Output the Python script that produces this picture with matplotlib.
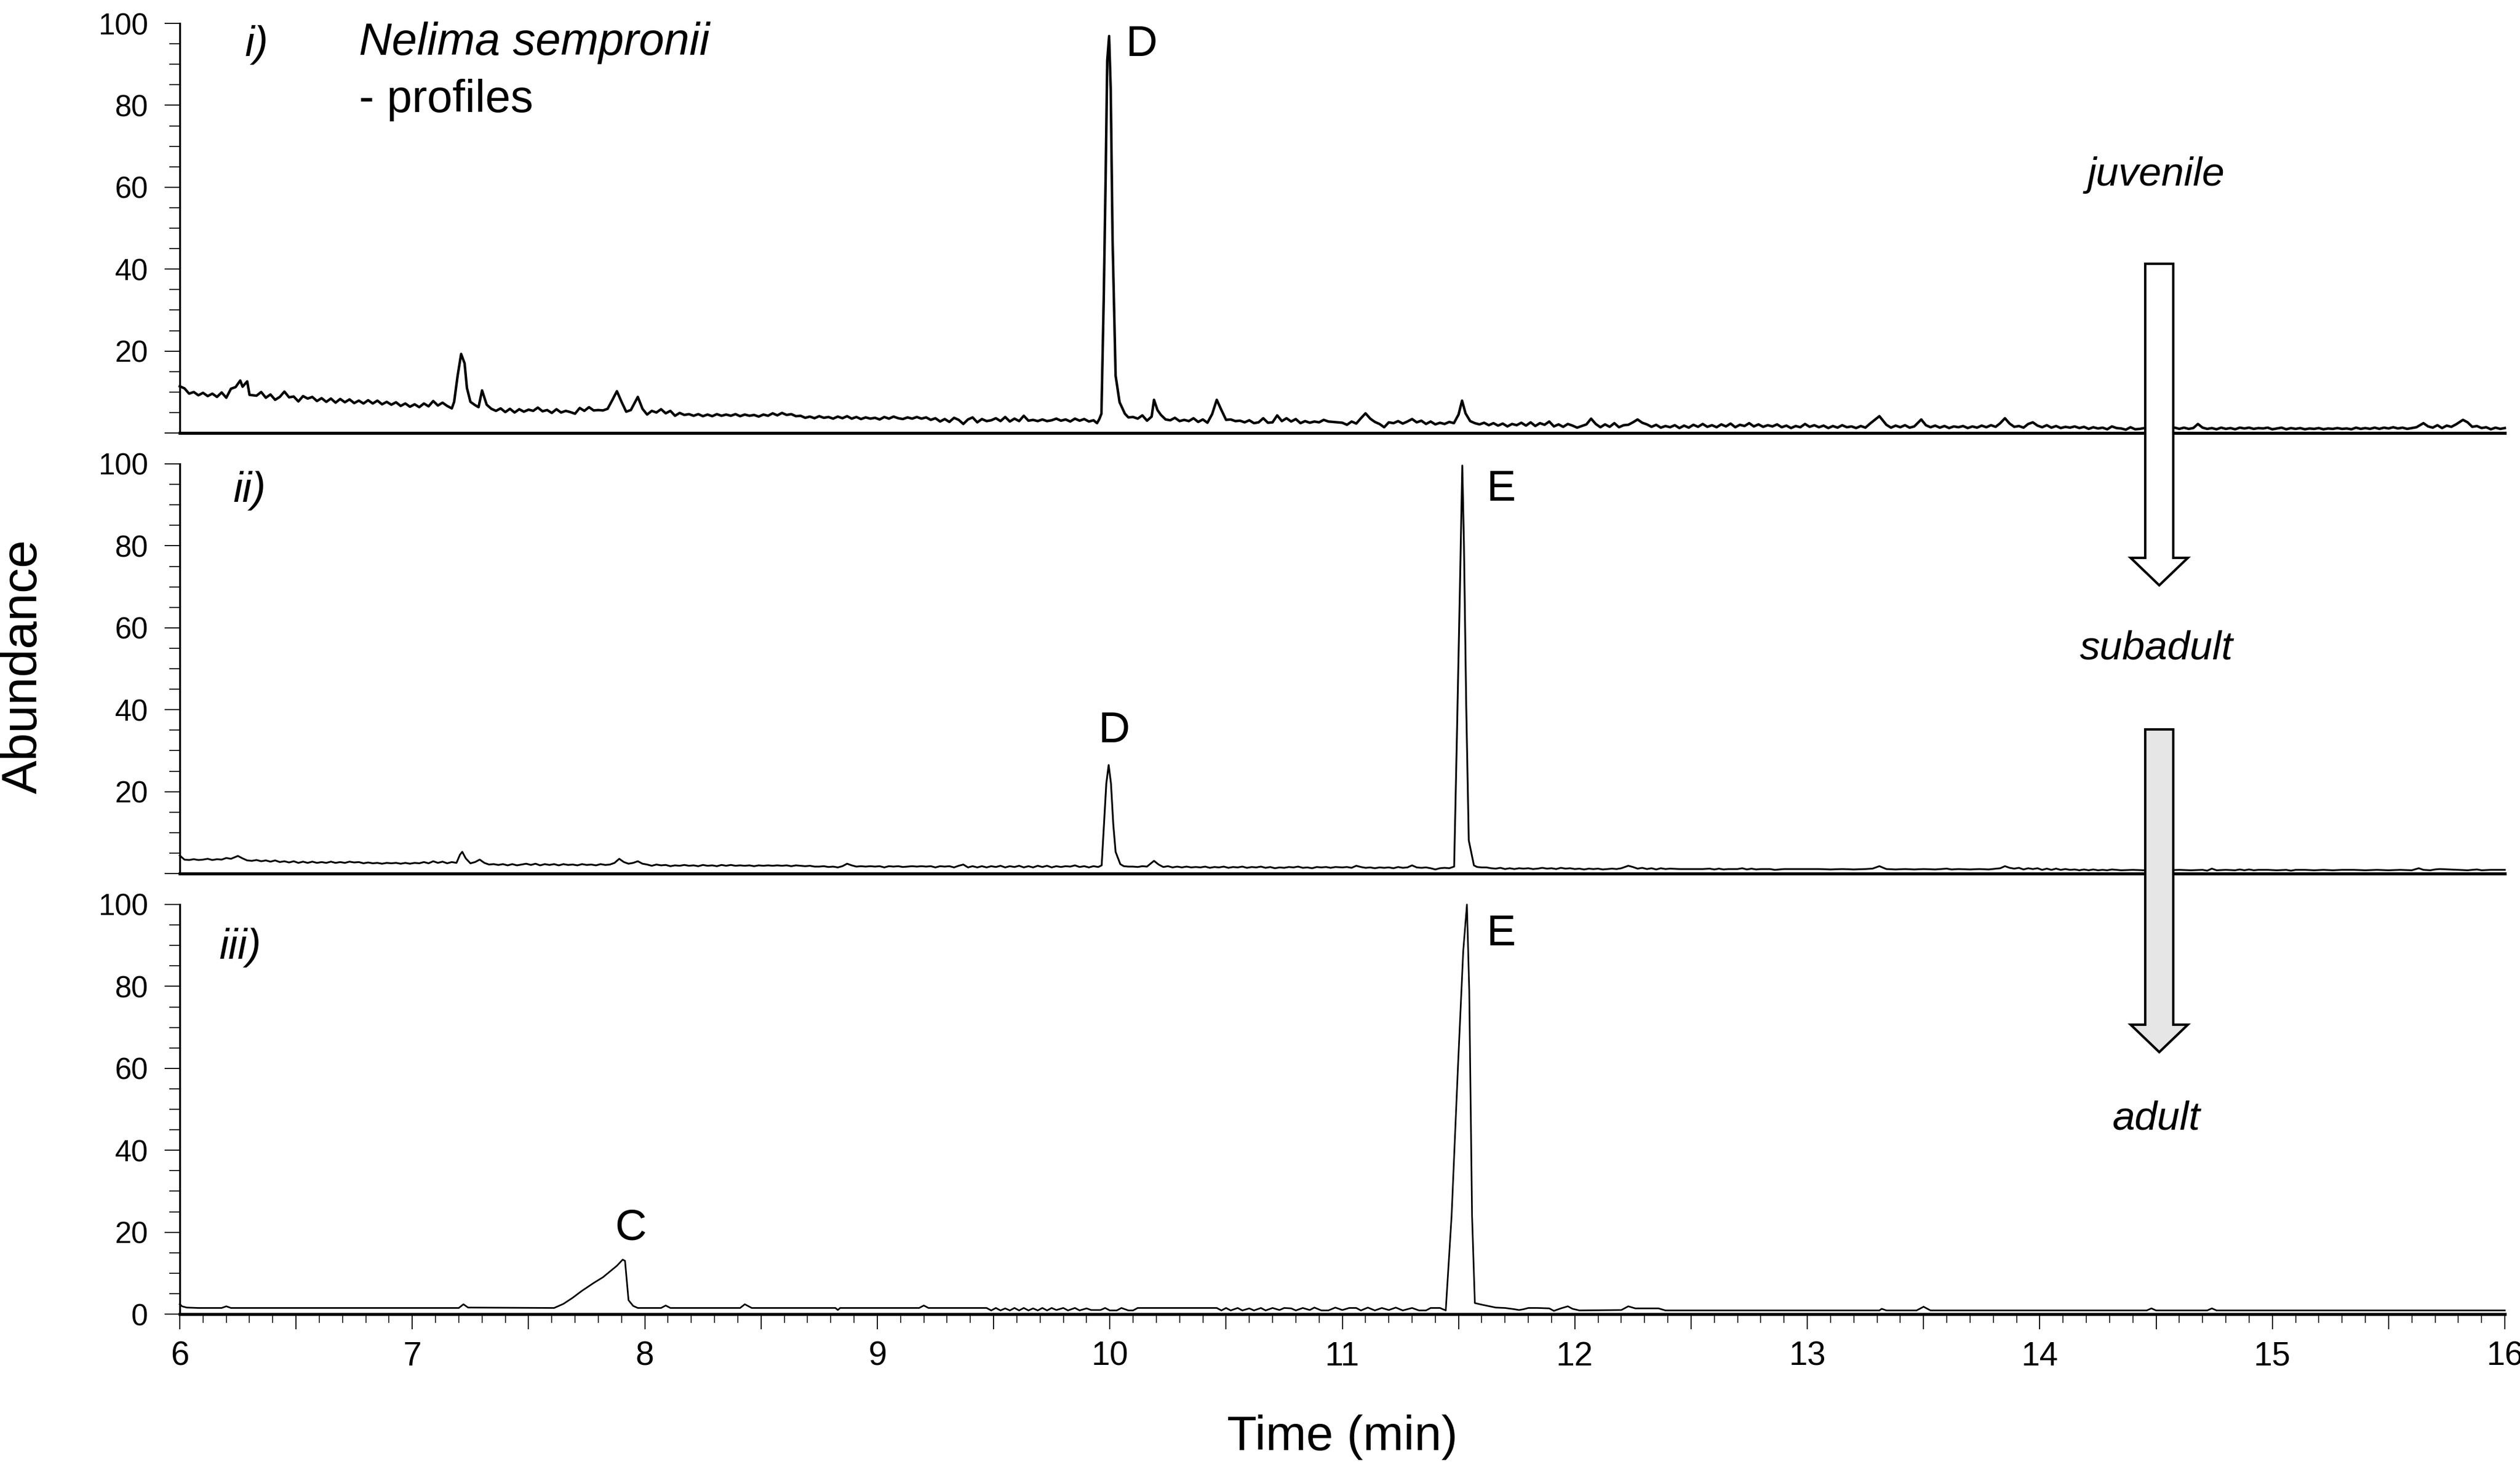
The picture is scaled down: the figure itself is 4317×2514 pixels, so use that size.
import matplotlib
matplotlib.use("Agg")
import matplotlib.pyplot as plt
from matplotlib.patches import FancyArrow
from matplotlib.ticker import MultipleLocator, FuncFormatter

plt.rcParams["font.family"] = ["Liberation Sans", "DejaVu Sans"]

# chromatogram vertices (time [min], abundance)
JUV = [
    (6.00, 11.4), (6.02, 10.9), (6.04, 9.6), (6.06, 10.0), (6.08, 9.2), (6.10, 9.8), (6.12, 9.0),
    (6.14, 9.6), (6.16, 8.8), (6.18, 9.9), (6.20, 8.6), (6.22, 10.8), (6.24, 11.2), (6.26, 12.8),
    (6.27, 11.3), (6.29, 12.6), (6.30, 9.3), (6.33, 9.1), (6.35, 10.0), (6.37, 8.6), (6.39, 9.4),
    (6.41, 8.1), (6.43, 8.8), (6.45, 10.1), (6.47, 8.7), (6.49, 8.9), (6.51, 7.7), (6.53, 9.0),
    (6.55, 8.4), (6.57, 8.8), (6.59, 7.8), (6.61, 8.5), (6.63, 7.6), (6.65, 8.4), (6.67, 7.4),
    (6.69, 8.3), (6.71, 7.5), (6.73, 8.2), (6.75, 7.3), (6.77, 7.9), (6.79, 7.2), (6.81, 8.0),
    (6.83, 7.2), (6.85, 7.9), (6.87, 7.0), (6.89, 7.6), (6.91, 6.9), (6.93, 7.5), (6.95, 6.6),
    (6.97, 7.2), (6.99, 6.4), (7.01, 7.0), (7.03, 6.3), (7.05, 7.2), (7.07, 6.5), (7.09, 7.8),
    (7.11, 6.7), (7.13, 7.4), (7.15, 6.6), (7.17, 6.0), (7.18, 7.6), (7.195, 14.0), (7.21, 19.3),
    (7.225, 17.0), (7.235, 11.0), (7.25, 7.6), (7.27, 6.8), (7.285, 6.3), (7.30, 10.4), (7.32, 6.9),
    (7.34, 5.9), (7.36, 5.4), (7.38, 6.0), (7.40, 5.1), (7.42, 5.9), (7.44, 5.0), (7.46, 5.8),
    (7.48, 5.2), (7.50, 5.7), (7.52, 5.4), (7.54, 6.2), (7.56, 5.3), (7.58, 5.6), (7.60, 4.9),
    (7.62, 5.8), (7.64, 5.0), (7.66, 5.4), (7.68, 5.1), (7.70, 4.7), (7.72, 6.1), (7.74, 5.4),
    (7.76, 6.3), (7.78, 5.5), (7.80, 5.6), (7.82, 5.5), (7.84, 5.9), (7.86, 8.0), (7.88, 10.2),
    (7.90, 7.6), (7.92, 5.2), (7.94, 5.6), (7.97, 8.8), (7.99, 5.9), (8.01, 4.5), (8.03, 5.4),
    (8.05, 5.0), (8.07, 5.8), (8.09, 4.8), (8.11, 5.4), (8.13, 4.2), (8.15, 4.9), (8.17, 4.4),
    (8.19, 4.6), (8.21, 4.2), (8.23, 4.6), (8.25, 4.1), (8.27, 4.5), (8.29, 4.1), (8.31, 4.6),
    (8.33, 4.2), (8.35, 4.5), (8.37, 4.2), (8.39, 4.6), (8.41, 4.1), (8.43, 4.5), (8.45, 4.2),
    (8.47, 4.4), (8.49, 4.0), (8.51, 4.5), (8.53, 4.2), (8.55, 4.8), (8.57, 4.3), (8.59, 4.9),
    (8.61, 4.4), (8.63, 4.6), (8.65, 4.1), (8.67, 4.2), (8.69, 3.7), (8.71, 4.0), (8.73, 3.6),
    (8.75, 4.1), (8.77, 3.7), (8.79, 3.9), (8.81, 3.5), (8.83, 4.0), (8.85, 3.6), (8.87, 4.1),
    (8.89, 3.5), (8.91, 3.9), (8.93, 3.4), (8.95, 3.8), (8.97, 3.5), (8.99, 3.7), (9.01, 3.3),
    (9.03, 3.9), (9.05, 3.5), (9.07, 4.0), (9.09, 3.6), (9.11, 3.4), (9.13, 3.8), (9.15, 3.5),
    (9.17, 3.9), (9.19, 3.5), (9.21, 3.8), (9.23, 3.2), (9.25, 3.6), (9.27, 2.8), (9.29, 3.4),
    (9.31, 2.7), (9.33, 3.7), (9.35, 3.2), (9.37, 2.2), (9.39, 3.3), (9.41, 3.8), (9.43, 2.6),
    (9.45, 3.4), (9.47, 2.9), (9.49, 3.1), (9.51, 3.6), (9.53, 2.9), (9.55, 3.9), (9.57, 2.8),
    (9.59, 3.5), (9.61, 2.9), (9.63, 4.2), (9.65, 3.0), (9.67, 3.2), (9.69, 2.9), (9.71, 3.3),
    (9.73, 2.9), (9.75, 3.1), (9.77, 3.5), (9.79, 3.0), (9.81, 3.3), (9.83, 2.8), (9.85, 3.5),
    (9.87, 3.0), (9.89, 3.4), (9.91, 2.8), (9.93, 3.1), (9.945, 2.4), (9.955, 3.4), (9.964, 4.7),
    (9.974, 33.0), (9.982, 62.0), (9.989, 91.0), (9.997, 96.9), (10.004, 83.7), (10.012, 47.0),
    (10.025, 14.0), (10.042, 7.5), (10.065, 4.7), (10.08, 3.8), (10.10, 3.9), (10.12, 3.5),
    (10.14, 4.3), (10.16, 3.0), (10.18, 4.0), (10.19, 8.1), (10.205, 5.6), (10.22, 4.4),
    (10.24, 3.3), (10.26, 3.1), (10.28, 3.7), (10.30, 2.9), (10.32, 3.2), (10.34, 2.9),
    (10.36, 3.6), (10.38, 2.7), (10.40, 3.3), (10.42, 2.5), (10.44, 4.6), (10.46, 8.1),
    (10.48, 5.6), (10.50, 3.2), (10.52, 3.3), (10.54, 2.9), (10.56, 3.0), (10.58, 2.6),
    (10.60, 3.1), (10.62, 2.4), (10.64, 2.6), (10.66, 3.6), (10.68, 2.5), (10.70, 2.6),
    (10.72, 4.3), (10.74, 2.9), (10.76, 3.6), (10.78, 2.8), (10.80, 3.4), (10.82, 2.4),
    (10.84, 2.9), (10.86, 2.5), (10.88, 2.8), (10.90, 2.6), (10.92, 3.2), (10.94, 2.8),
    (11.00, 2.5), (11.02, 2.0), (11.04, 2.8), (11.06, 2.3), (11.08, 3.6), (11.10, 4.8),
    (11.12, 3.5), (11.14, 2.7), (11.16, 2.2), (11.18, 1.4), (11.20, 2.6), (11.22, 2.4),
    (11.24, 2.9), (11.26, 2.3), (11.28, 2.8), (11.30, 3.4), (11.32, 2.6), (11.34, 3.0),
    (11.36, 2.2), (11.38, 2.8), (11.40, 2.1), (11.42, 2.5), (11.44, 2.2), (11.46, 2.7),
    (11.48, 2.4), (11.50, 4.5), (11.515, 7.9), (11.53, 4.8), (11.55, 2.9), (11.57, 2.4),
    (11.59, 2.1), (11.61, 2.5), (11.63, 1.9), (11.65, 2.4), (11.67, 1.8), (11.69, 2.3),
    (11.71, 1.6), (11.73, 2.2), (11.75, 1.9), (11.77, 2.5), (11.79, 1.8), (11.81, 2.6),
    (11.83, 1.7), (11.85, 2.4), (11.87, 2.0), (11.89, 2.8), (11.91, 1.6), (11.93, 2.1),
    (11.95, 1.5), (11.97, 2.2), (11.99, 1.8), (12.01, 1.3), (12.05, 2.1), (12.07, 3.5),
    (12.09, 2.2), (12.11, 1.4), (12.13, 2.1), (12.15, 1.5), (12.17, 2.4), (12.19, 1.4),
    (12.21, 1.9), (12.23, 2.0), (12.25, 2.6), (12.27, 3.3), (12.29, 2.5), (12.31, 2.1),
    (12.33, 1.5), (12.35, 2.0), (12.37, 1.3), (12.39, 1.7), (12.41, 1.4), (12.43, 1.9),
    (12.45, 1.2), (12.47, 1.8), (12.49, 1.3), (12.51, 2.0), (12.53, 1.5), (12.55, 2.2),
    (12.57, 1.5), (12.59, 1.9), (12.61, 1.4), (12.63, 2.1), (12.65, 1.6), (12.67, 2.3),
    (12.69, 1.4), (12.71, 2.0), (12.73, 1.7), (12.75, 2.4), (12.77, 1.6), (12.79, 2.1),
    (12.81, 1.5), (12.83, 1.9), (12.85, 1.6), (12.87, 2.1), (12.89, 1.4), (12.91, 1.8),
    (12.93, 1.2), (12.95, 1.7), (12.97, 1.4), (12.99, 2.2), (13.01, 1.5), (13.03, 1.9),
    (13.05, 1.4), (13.07, 1.8), (13.09, 1.2), (13.11, 1.7), (13.13, 1.3), (13.15, 1.9),
    (13.17, 1.4), (13.19, 1.6), (13.21, 1.2), (13.23, 1.7), (13.25, 1.3), (13.27, 2.3),
    (13.31, 4.1), (13.34, 2.0), (13.36, 1.3), (13.38, 1.8), (13.40, 1.4), (13.42, 1.9),
    (13.44, 1.3), (13.46, 1.6), (13.49, 3.3), (13.51, 1.9), (13.53, 1.4), (13.55, 1.8),
    (13.57, 1.3), (13.59, 1.7), (13.61, 1.2), (13.63, 1.6), (13.65, 1.4), (13.67, 1.7),
    (13.69, 1.2), (13.71, 1.6), (13.73, 1.3), (13.75, 1.8), (13.77, 1.4), (13.79, 1.9),
    (13.81, 1.5), (13.83, 2.4), (13.85, 3.6), (13.87, 2.3), (13.89, 1.5), (13.91, 1.7),
    (13.93, 1.3), (13.95, 2.2), (13.97, 2.6), (13.99, 1.8), (14.01, 1.4), (14.03, 1.9),
    (14.05, 1.3), (14.07, 1.7), (14.09, 1.2), (14.11, 1.5), (14.13, 1.3), (14.15, 1.6),
    (14.17, 1.2), (14.19, 1.5), (14.21, 1.0), (14.23, 1.4), (14.25, 1.1), (14.27, 1.3),
    (14.29, 0.9), (14.31, 1.6), (14.33, 1.2), (14.35, 1.1), (14.37, 0.8), (14.39, 1.4),
    (14.41, 0.9), (14.43, 1.0), (14.45, 1.2), (14.50, 1.1), (14.55, 1.0), (14.58, 1.3),
    (14.60, 1.0), (14.62, 1.3), (14.64, 1.0), (14.66, 1.2), (14.68, 2.2), (14.70, 1.3),
    (14.72, 1.0), (14.74, 1.2), (14.76, 0.9), (14.78, 1.3), (14.80, 1.0), (14.82, 1.2),
    (14.84, 0.9), (14.86, 1.3), (14.88, 1.1), (14.90, 1.3), (14.92, 1.0), (14.94, 1.2),
    (14.96, 1.1), (14.98, 1.3), (15.00, 0.9), (15.02, 1.1), (15.04, 1.3), (15.06, 0.9),
    (15.08, 1.2), (15.10, 1.0), (15.12, 1.2), (15.14, 0.9), (15.16, 1.1), (15.18, 1.0),
    (15.20, 1.2), (15.22, 0.9), (15.24, 1.1), (15.26, 1.0), (15.28, 1.2), (15.30, 1.0),
    (15.32, 1.1), (15.34, 0.9), (15.36, 1.3), (15.38, 1.0), (15.40, 1.2), (15.42, 1.0),
    (15.44, 1.3), (15.46, 1.0), (15.48, 1.3), (15.50, 1.1), (15.52, 1.4), (15.54, 1.1),
    (15.56, 1.3), (15.58, 1.0), (15.60, 1.2), (15.62, 1.4), (15.65, 2.4), (15.67, 1.6),
    (15.69, 1.3), (15.71, 1.9), (15.73, 1.2), (15.75, 1.8), (15.77, 1.5), (15.79, 2.1),
    (15.82, 3.2), (15.84, 2.6), (15.86, 1.5), (15.88, 1.7), (15.90, 1.2), (15.92, 1.4),
    (15.94, 0.9), (15.96, 1.3), (15.98, 1.0), (16.00, 1.2),
]

SUB = [
    (6.00, 4.4), (6.02, 3.4), (6.04, 3.3), (6.06, 3.5), (6.08, 3.3), (6.10, 3.4), (6.12, 3.6),
    (6.14, 3.3), (6.16, 3.5), (6.18, 3.4), (6.20, 3.8), (6.22, 3.6), (6.25, 4.3), (6.27, 3.7),
    (6.29, 3.2), (6.31, 3.1), (6.33, 3.3), (6.35, 3.0), (6.37, 3.2), (6.39, 2.9), (6.41, 3.2),
    (6.43, 2.8), (6.45, 3.0), (6.47, 2.7), (6.49, 3.0), (6.51, 2.6), (6.53, 2.9), (6.55, 2.6),
    (6.57, 2.9), (6.59, 2.6), (6.61, 2.8), (6.63, 2.6), (6.65, 2.9), (6.67, 2.6), (6.69, 2.8),
    (6.71, 2.6), (6.73, 2.9), (6.75, 2.7), (6.77, 2.8), (6.79, 2.5), (6.81, 2.7), (6.83, 2.5),
    (6.85, 2.6), (6.87, 2.4), (6.89, 2.6), (6.91, 2.5), (6.93, 2.6), (6.95, 2.4), (6.97, 2.6),
    (6.99, 2.4), (7.01, 2.6), (7.03, 2.5), (7.05, 2.8), (7.07, 2.5), (7.09, 3.0), (7.11, 2.6),
    (7.13, 2.9), (7.15, 2.5), (7.17, 2.8), (7.19, 2.6), (7.205, 4.6), (7.215, 5.3), (7.23, 3.7),
    (7.25, 2.5), (7.27, 2.8), (7.29, 3.4), (7.31, 2.6), (7.33, 2.2), (7.35, 2.3), (7.37, 2.1),
    (7.39, 2.3), (7.41, 2.0), (7.43, 2.3), (7.45, 2.0), (7.47, 2.2), (7.49, 2.4), (7.51, 2.1),
    (7.53, 2.4), (7.55, 2.0), (7.57, 2.3), (7.59, 2.1), (7.61, 2.3), (7.63, 2.0), (7.65, 2.3),
    (7.67, 2.1), (7.69, 2.2), (7.71, 2.0), (7.73, 2.3), (7.75, 2.1), (7.77, 2.2), (7.79, 2.0),
    (7.81, 2.3), (7.83, 2.1), (7.85, 2.2), (7.87, 2.6), (7.89, 3.6), (7.91, 2.8), (7.93, 2.4),
    (7.95, 2.6), (7.97, 3.0), (7.99, 2.4), (8.01, 2.2), (8.03, 1.9), (8.05, 2.2), (8.07, 2.0),
    (8.09, 2.1), (8.11, 1.8), (8.13, 2.0), (8.15, 1.9), (8.17, 2.1), (8.19, 1.9), (8.21, 2.0),
    (8.23, 1.8), (8.25, 2.1), (8.27, 1.9), (8.29, 2.0), (8.31, 1.8), (8.33, 2.1), (8.35, 1.9),
    (8.37, 2.1), (8.39, 1.9), (8.41, 2.0), (8.43, 1.9), (8.45, 2.0), (8.47, 1.8), (8.49, 2.0),
    (8.51, 1.9), (8.53, 2.0), (8.55, 1.9), (8.57, 2.0), (8.59, 1.9), (8.61, 2.0), (8.63, 1.8),
    (8.65, 2.0), (8.67, 1.9), (8.69, 1.8), (8.71, 1.9), (8.73, 1.7), (8.75, 1.7), (8.77, 1.8),
    (8.79, 1.6), (8.81, 1.7), (8.83, 1.5), (8.85, 1.8), (8.87, 2.4), (8.89, 2.0), (8.91, 1.7),
    (8.93, 1.8), (8.95, 1.7), (8.97, 1.8), (8.99, 1.7), (9.01, 1.8), (9.03, 1.5), (9.05, 1.8),
    (9.07, 1.7), (9.09, 1.8), (9.11, 1.6), (9.13, 1.7), (9.15, 1.8), (9.17, 1.7), (9.19, 1.8),
    (9.21, 1.7), (9.23, 1.8), (9.25, 1.5), (9.27, 1.8), (9.29, 1.7), (9.31, 1.8), (9.33, 1.5),
    (9.35, 1.9), (9.37, 2.2), (9.39, 1.5), (9.41, 1.8), (9.43, 1.5), (9.45, 1.8), (9.47, 1.5),
    (9.49, 1.8), (9.51, 1.6), (9.53, 1.9), (9.55, 1.5), (9.57, 1.8), (9.59, 1.6), (9.61, 1.9),
    (9.63, 1.5), (9.65, 1.8), (9.67, 1.5), (9.69, 1.9), (9.71, 1.6), (9.73, 1.9), (9.75, 1.5),
    (9.77, 1.8), (9.79, 1.6), (9.81, 1.8), (9.83, 1.7), (9.85, 2.0), (9.87, 1.6), (9.89, 1.8),
    (9.91, 1.5), (9.93, 1.8), (9.95, 1.6), (9.965, 2.0), (9.975, 12.0), (9.985, 22.0),
    (9.995, 26.5), (10.005, 22.0), (10.015, 12.0), (10.025, 5.3), (10.045, 2.3), (10.06, 1.8),
    (10.08, 1.7), (10.10, 1.7), (10.12, 1.6), (10.14, 1.8), (10.16, 1.7), (10.19, 3.1),
    (10.21, 2.2), (10.23, 1.6), (10.25, 1.8), (10.27, 1.5), (10.29, 1.7), (10.31, 1.5),
    (10.33, 1.7), (10.35, 1.5), (10.37, 1.6), (10.39, 1.5), (10.41, 1.7), (10.43, 1.4),
    (10.45, 1.6), (10.47, 1.5), (10.49, 1.7), (10.51, 1.4), (10.53, 1.6), (10.55, 1.5),
    (10.57, 1.7), (10.59, 1.4), (10.61, 1.6), (10.63, 1.5), (10.65, 1.7), (10.67, 1.4),
    (10.69, 1.6), (10.71, 1.3), (10.73, 1.5), (10.75, 1.4), (10.77, 1.6), (10.79, 1.5),
    (10.81, 1.7), (10.83, 1.4), (10.85, 1.5), (10.87, 1.3), (10.89, 1.6), (10.91, 1.5),
    (10.93, 1.6), (10.95, 1.4), (10.97, 1.6), (11.00, 1.5), (11.02, 1.6), (11.04, 1.4),
    (11.06, 1.9), (11.08, 1.6), (11.10, 1.4), (11.12, 1.5), (11.14, 1.3), (11.16, 1.5),
    (11.18, 1.4), (11.20, 1.5), (11.22, 1.3), (11.24, 1.6), (11.26, 1.4), (11.28, 1.5),
    (11.30, 2.0), (11.32, 1.5), (11.34, 1.4), (11.36, 1.5), (11.38, 1.3), (11.40, 1.0),
    (11.42, 1.3), (11.44, 1.4), (11.46, 1.3), (11.481, 1.7), (11.493, 33.6), (11.506, 70.0),
    (11.516, 99.6), (11.523, 80.8), (11.533, 40.9), (11.544, 8.1), (11.566, 2.0), (11.58, 1.6),
    (11.60, 1.5), (11.62, 1.5), (11.64, 1.3), (11.66, 1.2), (11.68, 1.4), (11.70, 1.1),
    (11.72, 1.3), (11.74, 1.1), (11.76, 1.3), (11.78, 1.2), (11.80, 1.3), (11.82, 1.1),
    (11.84, 1.2), (11.86, 1.4), (11.88, 1.2), (11.90, 1.3), (11.92, 1.1), (11.94, 1.4),
    (11.96, 1.2), (11.98, 1.3), (12.00, 1.1), (12.02, 1.2), (12.04, 1.0), (12.06, 1.2),
    (12.08, 1.1), (12.10, 1.2), (12.12, 1.0), (12.14, 1.1), (12.16, 1.2), (12.18, 1.1),
    (12.20, 1.3), (12.23, 1.9), (12.25, 1.6), (12.27, 1.2), (12.29, 1.4), (12.31, 1.1),
    (12.33, 1.3), (12.35, 1.0), (12.37, 1.3), (12.39, 1.1), (12.41, 1.2), (12.45, 1.1),
    (12.50, 1.1), (12.55, 1.1), (12.58, 1.2), (12.60, 1.0), (12.62, 1.2), (12.64, 1.0),
    (12.66, 1.1), (12.70, 1.1), (12.72, 1.3), (12.74, 1.0), (12.76, 1.2), (12.78, 1.0),
    (12.80, 1.1), (12.84, 1.1), (12.86, 0.9), (12.90, 1.1), (12.95, 1.1), (13.00, 1.1),
    (13.05, 1.1), (13.10, 1.0), (13.15, 1.1), (13.20, 1.0), (13.25, 1.1), (13.28, 1.2),
    (13.31, 1.8), (13.34, 1.1), (13.38, 1.0), (13.42, 1.1), (13.46, 1.0), (13.50, 1.1),
    (13.55, 1.0), (13.60, 1.2), (13.62, 1.0), (13.65, 1.1), (13.70, 1.0), (13.74, 1.1),
    (13.78, 1.0), (13.83, 1.3), (13.85, 1.8), (13.87, 1.4), (13.89, 1.2), (13.91, 1.4),
    (13.93, 1.0), (13.95, 1.3), (13.97, 1.1), (13.99, 1.3), (14.01, 0.9), (14.03, 1.2),
    (14.05, 0.9), (14.07, 1.2), (14.09, 0.9), (14.11, 1.1), (14.13, 0.9), (14.15, 1.0),
    (14.17, 0.8), (14.19, 1.0), (14.21, 0.8), (14.23, 1.0), (14.25, 0.8), (14.27, 0.9),
    (14.29, 0.8), (14.31, 1.0), (14.35, 0.8), (14.40, 0.9), (14.45, 0.8), (14.50, 0.9),
    (14.55, 0.8), (14.60, 0.9), (14.65, 0.8), (14.70, 0.9), (14.72, 0.7), (14.74, 1.2),
    (14.76, 0.8), (14.80, 0.9), (14.84, 0.8), (14.86, 1.0), (14.88, 0.8), (14.90, 1.0),
    (14.92, 0.8), (14.94, 0.9), (14.98, 0.9), (15.02, 0.8), (15.06, 0.9), (15.08, 0.7),
    (15.10, 0.9), (15.14, 0.9), (15.18, 0.8), (15.22, 0.9), (15.26, 0.8), (15.30, 0.9),
    (15.35, 0.9), (15.40, 0.8), (15.45, 0.9), (15.50, 0.8), (15.55, 0.9), (15.60, 0.8),
    (15.63, 1.3), (15.65, 0.9), (15.68, 0.8), (15.70, 1.0), (15.72, 1.1), (15.76, 1.0),
    (15.80, 0.9), (15.84, 0.8), (15.88, 1.0), (15.90, 0.8), (15.94, 0.9), (16.00, 0.9),
]

ADU = [
    (6.00, 2.4), (6.01, 1.9), (6.03, 1.6), (6.08, 1.5), (6.18, 1.5), (6.20, 1.9), (6.22, 1.5),
    (7.20, 1.5), (7.22, 2.4), (7.24, 1.6), (7.61, 1.5), (7.65, 2.5), (7.69, 4.0), (7.73, 5.7),
    (7.78, 7.6), (7.82, 9.0), (7.85, 10.4), (7.88, 11.8), (7.905, 13.3), (7.915, 13.0),
    (7.93, 3.4), (7.95, 2.0), (7.97, 1.5), (8.07, 1.5), (8.09, 2.1), (8.11, 1.5), (8.41, 1.5),
    (8.43, 2.4), (8.46, 1.5), (8.82, 1.5), (8.83, 1.0), (8.84, 1.5), (9.18, 1.5), (9.20, 2.1),
    (9.22, 1.5), (9.47, 1.5), (9.49, 0.9), (9.51, 1.5), (9.53, 0.9), (9.55, 1.4), (9.57, 0.9),
    (9.59, 1.5), (9.61, 0.9), (9.63, 1.5), (9.65, 0.9), (9.67, 1.4), (9.69, 0.9), (9.71, 1.5),
    (9.73, 0.9), (9.75, 1.5), (9.77, 1.0), (9.80, 1.5), (9.82, 0.9), (9.85, 1.5), (9.87, 0.9),
    (9.90, 1.4), (9.92, 1.0), (9.96, 1.0), (9.98, 1.5), (10.00, 0.9), (10.03, 0.9), (10.05, 1.5),
    (10.08, 0.9), (10.10, 0.9), (10.12, 1.5), (10.21, 1.5), (10.46, 1.5), (10.48, 0.9),
    (10.50, 1.5), (10.52, 0.9), (10.55, 1.5), (10.57, 0.9), (10.60, 1.4), (10.62, 0.9),
    (10.65, 1.5), (10.67, 0.9), (10.70, 1.5), (10.73, 1.0), (10.75, 1.5), (10.78, 1.4),
    (10.80, 0.9), (10.83, 1.5), (10.86, 1.0), (10.88, 1.6), (10.91, 0.9), (10.94, 0.9),
    (10.97, 1.6), (11.00, 1.0), (11.03, 1.5), (11.06, 1.5), (11.08, 0.9), (11.11, 1.6),
    (11.14, 0.9), (11.17, 1.5), (11.20, 1.0), (11.23, 1.6), (11.26, 0.9), (11.30, 1.5),
    (11.33, 0.9), (11.36, 0.9), (11.38, 1.5), (11.42, 1.5), (11.445, 0.9), (11.47, 24.0),
    (11.498, 61.0), (11.52, 88.6), (11.536, 100.0), (11.546, 79.0), (11.558, 24.0),
    (11.57, 2.7), (11.60, 2.3), (11.634, 1.9), (11.66, 1.6), (11.70, 1.5), (11.74, 1.2),
    (11.76, 1.0), (11.78, 1.2), (11.80, 1.5), (11.84, 1.5), (11.89, 1.4), (11.91, 0.8),
    (11.94, 1.4), (11.97, 1.9), (11.99, 1.3), (12.02, 0.9), (12.20, 1.0), (12.23, 1.9),
    (12.26, 1.4), (12.36, 1.4), (12.39, 0.9), (13.31, 0.9), (13.32, 1.3), (13.34, 0.9),
    (13.47, 0.9), (13.50, 1.8), (13.53, 0.9), (14.46, 0.9), (14.48, 1.4), (14.50, 0.9),
    (14.72, 0.9), (14.74, 1.4), (14.76, 0.9), (16.00, 0.9),
]

TRACES = [JUV, SUB, ADU]
TRACE_LW = [3.1, 2.2, 2.0]
PANEL_TAGS = ["i)", "ii)", "iii)"]
TAG_POS = [(6.28, 92.0), (6.23, 90.7), (6.17, 86.8)]
# peak letters: (panel, text, time, abundance, ha)
PEAK_LABELS = [
    (0, "D", 10.07, 92.0, "left"),
    (1, "D", 10.02, 32.0, "center"),
    (1, "E", 11.62, 91.0, "left"),
    (2, "C", 7.94, 18.2, "center"),
    (2, "E", 11.62, 90.0, "left"),
]
STAGES = ["juvenile", "subadult", "adult"]

W, H, DPI = 4317, 2514, 100
fig = plt.figure(figsize=(W / DPI, H / DPI), dpi=DPI)

left, width, height = 308 / W, (4291 - 308) / W, 702 / H
bottoms = [1 - 742 / H, 1 - 1497 / H, 1 - 2252 / H]

axes = []
for k, (trace, lw) in enumerate(zip(TRACES, TRACE_LW)):
    ax = fig.add_axes([left, bottoms[k], width, height])
    axes.append(ax)
    t = [p[0] for p in trace]
    a = [p[1] for p in trace]
    ax.plot(t, a, color="black", lw=lw, clip_on=False, zorder=3)
    ax.set_xlim(6, 16)
    ax.set_ylim(0, 100)
    for s in ("top", "right"):
        ax.spines[s].set_visible(False)
    ax.spines["left"].set_linewidth(2.4)
    ax.spines["bottom"].set_linewidth(3.8)
    ax.spines["bottom"].set_zorder(4)

    ax.yaxis.set_major_locator(MultipleLocator(20))
    ax.yaxis.set_minor_locator(MultipleLocator(5))
    if k < 2:
        ax.yaxis.set_major_formatter(FuncFormatter(lambda v, p: "" if v == 0 else f"{v:.0f}"))
    else:
        ax.yaxis.set_major_formatter(FuncFormatter(lambda v, p: f"{v:.0f}"))
    ax.tick_params(axis="y", which="major", direction="out", length=19, width=1.3,
                   labelsize=37, pad=20)
    ax.tick_params(axis="y", which="minor", direction="out", length=13, width=1.2)

    if k < 2:
        ax.tick_params(axis="x", which="both", bottom=False, labelbottom=False)
    else:
        ax.xaxis.set_major_locator(MultipleLocator(0.5))
        ax.xaxis.set_minor_locator(MultipleLocator(0.1))
        ax.xaxis.set_major_formatter(FuncFormatter(
            lambda v, p: f"{v:.0f}" if abs(v - round(v)) < 1e-6 else ""))
        ax.tick_params(axis="x", which="major", direction="out", length=19, width=1.3,
                       labelsize=41, pad=14)
        ax.tick_params(axis="x", which="minor", direction="out", length=11, width=1.1)

    tx, ty = TAG_POS[k]
    ax.text(tx, ty, PANEL_TAGS[k], fontsize=52, style="italic", ha="left", va="baseline")

for k, txt, tt, aa, ha in PEAK_LABELS:
    axes[k].text(tt, aa, txt, fontsize=54, ha=ha, va="baseline")

axes[0].text(6.77, 92.3, "Nelima sempronii", fontsize=56, style="italic", ha="left", va="baseline")
axes[0].text(6.77, 78.3, "- profiles", fontsize=56, ha="left", va="baseline")

axes[2].set_xlabel("Time (min)", fontsize=60, labelpad=52)
fig.text(0.0095, 1 - 1142 / H, "Abundance", fontsize=62, rotation=90, ha="center", va="center")

# stage labels and arrows on the right
stage_y = [300, 1111, 1918]
for name, py in zip(STAGES, stage_y):
    fig.text(3694 / W, 1 - py / H, name, fontsize=50, style="italic", ha="center", va="center")

for top_px, tip_px, fc in [(452, 1003, "white"), (1250, 1803, "#e6e6e6")]:
    arr = FancyArrow(3699 / DPI, (H - top_px) / DPI, 0, -(tip_px - top_px) / DPI,
                     width=0.48, head_width=0.98, head_length=0.47,
                     length_includes_head=True, transform=fig.dpi_scale_trans,
                     facecolor=fc, edgecolor="black", lw=3, zorder=10)
    fig.add_artist(arr)

fig.savefig("out.png", dpi=DPI)
